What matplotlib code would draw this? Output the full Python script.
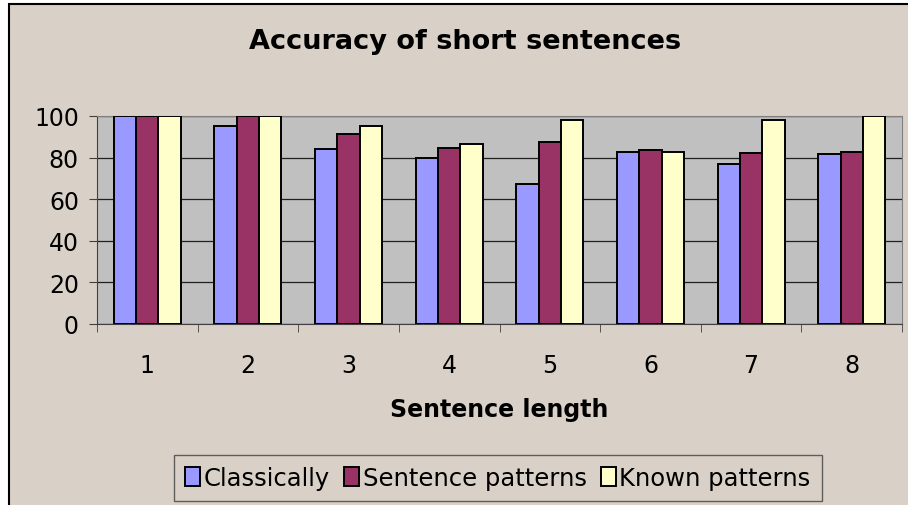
import numpy as np
import matplotlib.pyplot as plt
from matplotlib.patches import Rectangle

# data
lengths = ['1', '2', '3', '4', '5', '6', '7', '8']
classically = [100, 95, 84, 80, 67.5, 82.5, 77, 81.5]
sentence_patterns = [100, 100, 91.5, 84.5, 87.5, 83.5, 82, 82.5]
known_patterns = [100, 100, 95, 86.5, 98, 82.5, 98, 100]

series = ['Classically', 'Sentence patterns', 'Known patterns']
colors = ['#9999FF', '#993366', '#FFFFCC']

W, H = 908, 506
fig = plt.figure(figsize=(W / 100, H / 100), dpi=100, facecolor='white')

# beige chart area with black frame on left/top
bg = Rectangle((9 / W, -0.1), 1.2, 1.1 - 5 / H, transform=fig.transFigure,
               facecolor='#D9D1C8', edgecolor='black', linewidth=1.5, zorder=-10)
fig.add_artist(bg)

ax = fig.add_axes([97 / W, (H - 325) / H, (902 - 97) / W, (325 - 117) / H])
ax.set_facecolor('#C0C0C0')

x = np.arange(len(lengths))
w = 1 / 4.5
for i, (vals, name) in enumerate(zip([classically, sentence_patterns, known_patterns], series)):
    ax.bar(x + (i - 1) * w, vals, width=w, color=colors[i], edgecolor='black',
           linewidth=1.4, label=name, zorder=3)

ax.set_xlim(-0.5, len(lengths) - 0.5)
ax.set_ylim(0, 100)
ax.set_yticks([0, 20, 40, 60, 80, 100])
ax.yaxis.grid(True, color='#202020', linewidth=0.9, zorder=0)
ax.set_axisbelow(True)

ax.set_xticks(x)
ax.set_xticklabels(lengths)
ax.set_xticks(np.arange(-0.5, len(lengths)), minor=True)
ax.tick_params(axis='x', which='major', length=0, pad=21, labelsize=17)
ax.tick_params(axis='x', which='minor', length=6, direction='out', color='#404040')
ax.tick_params(axis='y', length=6, direction='out', color='#404040', labelsize=17, pad=7)

for s in ['top', 'right']:
    ax.spines[s].set_color('#808080')
for s in ['left', 'bottom']:
    ax.spines[s].set_color('#404040')

fig.text(465 / W, 1 - 42 / H, 'Accuracy of short sentences',
         ha='center', va='center', fontsize=19.5, fontweight='bold')
fig.text(499 / W, 1 - 410 / H, 'Sentence length',
         ha='center', va='center', fontsize=17, fontweight='bold')

leg = fig.legend(loc='center', bbox_to_anchor=(498 / W, 1 - 479 / H), ncol=3,
                 fontsize=17.5, frameon=True, fancybox=False, handlelength=0.6,
                 handleheight=0.85, handletextpad=0.15, columnspacing=0.6,
                 borderpad=0.45, borderaxespad=0)
leg.get_frame().set_edgecolor('#404040')
leg.get_frame().set_facecolor('#D9D1C8')
leg.get_frame().set_linewidth(1.0)

fig.savefig('out.png', dpi=100, facecolor=fig.get_facecolor())
